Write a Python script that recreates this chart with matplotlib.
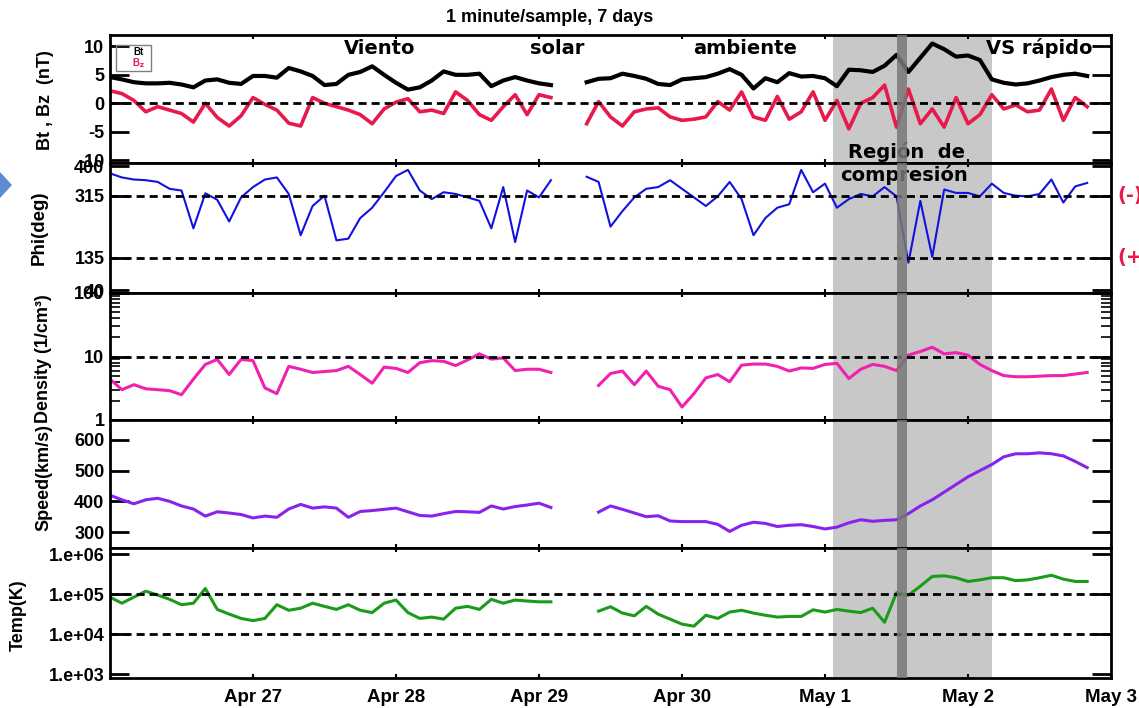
import numpy as np
import matplotlib.pyplot as plt
from matplotlib.patches import Polygon, Rectangle

nan = np.nan

# Hours since Apr 26 00:00, one value every 2 hours
hours = np.arange(0, 166, 2)

bt = [4.6, 4.2, 3.7, 3.5, 3.5, 3.6, 3.3, 2.8, 4.0, 4.2, 3.6, 3.4,
      4.8, 4.8, 4.5, 6.2, 5.6, 4.8, 3.2, 3.4, 5.0, 5.5, 6.5, 5.0,
      3.6, 2.4, 2.8, 4.0, 5.6, 5.0, 5.0, 5.2, 3.0, 4.0, 4.6, 4.0,
      3.5, 3.2, nan, nan, 3.7, 4.3, 4.4, 5.2, 4.8, 4.3, 3.4, 3.2,
      4.2, 4.4, 4.6, 5.2, 6.0, 5.0, 2.6, 4.4, 3.7, 5.3, 4.7, 4.8,
      4.4, 3.0, 5.9, 5.8, 5.5, 6.6, 8.5, 5.5, 8.0, 10.5, 9.5, 8.2,
      8.4, 7.6, 4.2, 3.6, 3.3, 3.5, 4.0, 4.6, 5.0, 5.2, 4.8]

bz = [2.2, 1.7, 0.5, -1.5, -0.6, -1.2, -1.8, -3.3, 0.0, -2.5, -4.0, -2.2,
      1.0, -0.2, -1.2, -3.5, -4.0, 1.0, 0.0, -0.6, -1.2, -2.0, -3.6, -1.0,
      0.2, 0.8, -1.5, -1.2, -1.8, 2.0, 0.5, -2.0, -3.0, -0.6, 1.5, -2.0,
      1.5, 1.0, nan, nan, -3.6, 0.3, -2.4, -4.0, -1.5, -1.0, -0.8, -2.4,
      -3.0, -2.8, -2.4, 0.3, -1.2, 2.0, -2.4, -3.0, 1.2, -2.8, -1.5, 2.0,
      -3.0, 0.5, -4.5, 0.0, 1.0, 3.2, -4.2, 2.5, -3.6, -1.0, -4.2, 1.0,
      -3.6, -2.0, 1.5, -1.0, -0.3, -1.5, -1.2, 2.5, -3.0, 1.0, -0.6]

phi = [380, 368, 362, 360, 355, 335, 330, 220, 322, 303, 240, 310,
       340, 362, 368, 320, 200, 285, 315, 185, 190, 250, 280, 325,
       372, 390, 330, 305, 325, 320, 310, 300, 220, 340, 180, 330,
       310, 360, nan, nan, 370, 355, 225, 270, 310, 335, 340, 360,
       335, 310, 285, 313, 355, 305, 200, 250, 280, 290, 390, 325,
       350, 280, 305, 320, 313, 340, 313, 120, 300, 137, 333, 323,
       323, 313, 350, 323, 315, 313, 320, 362, 295, 342, 352]

density = [4.4, 3.0, 3.6, 3.1, 3.0, 2.9, 2.5, 4.4, 7.5, 9.0, 5.2, 9.0,
           8.6, 3.2, 2.6, 7.0, 6.3, 5.6, 5.8, 6.0, 7.0, 5.2, 3.8, 6.8,
           6.5, 5.6, 8.0, 8.6, 8.4, 7.2, 8.8, 11, 9.1, 9.5, 6.0, 6.3,
           6.3, 5.6, nan, nan, nan, 3.5, 5.4, 5.9, 3.6, 5.9, 3.4, 3.0,
           1.6, 2.6, 4.6, 5.2, 4.0, 7.3, 7.6, 7.6, 7.0, 5.9, 6.6, 6.5,
           7.5, 7.8, 4.5, 6.3, 7.5, 7.0, 6.0, 10.5, 12, 14, 11, 11.5,
           10.5, 7.5, 6.0, 5.0, 4.8, 4.8, 4.9, 5.0, 5.0, 5.3, 5.6]

speed = [420, 405, 392, 405, 410, 400, 385, 375, 352, 366, 362, 357,
         346, 352, 348, 375, 390, 378, 382, 378, 348, 367, 370, 374,
         378, 366, 354, 352, 360, 367, 366, 364, 385, 375, 383, 388,
         394, 380, nan, nan, nan, 365, 385, 374, 362, 350, 353, 336,
         334, 334, 334, 325, 302, 322, 332, 328, 318, 322, 324, 318,
         310, 316, 330, 340, 335, 338, 340, 360, 385, 405, 430, 455,
         480, 500, 520, 545, 555, 555, 558, 555, 548, 530, 510]

temp = [8.5e4, 6.0e4, 8.5e4, 1.2e5, 9.6e4, 7.5e4, 5.5e4, 6.0e4, 1.4e5, 4.2e4, 3.2e4, 2.5e4,
        2.2e4, 2.5e4, 5.5e4, 4.0e4, 4.5e4, 6.0e4, 5.0e4, 4.2e4, 5.5e4, 4.0e4, 3.5e4, 6.0e4,
        7.2e4, 3.5e4, 2.5e4, 2.7e4, 2.4e4, 4.5e4, 5.0e4, 4.2e4, 7.5e4, 6.0e4, 7.2e4, 6.8e4,
        6.5e4, 6.5e4, nan, nan, nan, 3.8e4, 4.9e4, 3.4e4, 2.9e4, 5.0e4, 3.2e4, 2.4e4,
        1.8e4, 1.6e4, 3.0e4, 2.5e4, 3.6e4, 4.0e4, 3.4e4, 3.0e4, 2.7e4, 2.8e4, 2.8e4, 4.1e4,
        3.6e4, 4.2e4, 3.8e4, 3.5e4, 4.5e4, 2.0e4, 1.1e5, 9.5e4, 1.6e5, 2.8e5, 2.9e5, 2.6e5,
        2.1e5, 2.3e5, 2.6e5, 2.6e5, 2.2e5, 2.3e5, 2.6e5, 3.0e5, 2.4e5, 2.1e5, 2.1e5]

day_ticks = [24, 48, 72, 96, 120, 144, 168]
day_labels = ["Apr 27", "Apr 28", "Apr 29", "Apr 30", "May 1", "May 2", "May 3"]

# compression region and the interface (hours)
region = (121.3, 148.0)
interface = (132.1, 133.8)

plt.rcParams['font.family'] = ['Liberation Sans', 'DejaVu Sans']
plt.rcParams['font.weight'] = 'bold'
plt.rcParams['axes.labelweight'] = 'bold'
plt.rcParams['axes.unicode_minus'] = False

W, H = 1139, 708
fig = plt.figure(figsize=(W / 100, H / 100), dpi=100)
edges = [35, 163, 293, 420, 548, 678]
axes = []
for i in range(5):
    rect = [110 / W, 1 - edges[i + 1] / H, 1001 / W, (edges[i + 1] - edges[i]) / H]
    ax = fig.add_axes(rect, sharex=axes[0] if axes else None)
    axes.append(ax)

dash = (0, (2.9, 1.8))
for i, ax in enumerate(axes):
    ax.axvspan(*region, color='#c8c8c8', lw=0, zorder=0)
    ax.axvspan(*interface, color='#787878', alpha=0.85, lw=0, zorder=6)
    for s in ax.spines.values():
        s.set_linewidth(2)
    ax.tick_params(axis='y', which='major', direction='in', length=14, width=2,
                   labelsize=13, right=True, pad=4)
    ax.tick_params(axis='y', which='minor', direction='in', length=7, width=1.2, right=True)
    ax.tick_params(axis='x', which='major', direction='in', length=3, width=1.5,
                   top=True, labelbottom=(i == 4), labelsize=13.5, pad=8)

ax1, ax2, ax3, ax4, ax5 = axes

# Bt / Bz
ax1.plot(hours, bz, color='#e8194b', lw=2.6, zorder=2)
ax1.plot(hours, bt, color='black', lw=3, zorder=3)
ax1.axhline(0, color='black', ls=dash, lw=2, zorder=4)
ax1.set_ylim(-10.5, 12)
ax1.set_yticks([-10, -5, 0, 5, 10])
ax1.set_ylabel("Bt , Bz  (nT)", fontsize=13)
ax1.yaxis.set_label_coords(-0.056, 0.49)
ax1.add_patch(Rectangle((0.006, 0.72), 0.035, 0.2, transform=ax1.transAxes,
                        fill=False, edgecolor='#808080', lw=1, zorder=5))
ax1.text(0.028, 0.865, "Bt", transform=ax1.transAxes, fontsize=7, color='black',
         ha='center', va='center')
ax1.text(0.028, 0.78, "B$_\\mathbf{z}$", transform=ax1.transAxes, fontsize=7,
         color='#e8194b', ha='center', va='center')

# Phi
ax2.plot(hours, phi, color='#1212e0', lw=1.5, zorder=2)
ax2.axhline(315, color='black', ls=dash, lw=2, zorder=4)
ax2.axhline(135, color='black', ls=dash, lw=2, zorder=4)
ax2.set_ylim(32, 410)
ax2.set_yticks([40, 135, 315, 400])
ax2.set_ylabel("Phi(deg)", fontsize=13.5)
ax2.yaxis.set_label_coords(-0.062, 0.5)
ax2.text(1.006, 315, "(-)", transform=ax2.get_yaxis_transform(), color='#e8194b',
         fontsize=14, family='DejaVu Sans', va='center', ha='left', clip_on=False)
ax2.text(1.006, 135, "(+)", transform=ax2.get_yaxis_transform(), color='#e8194b',
         fontsize=14, family='DejaVu Sans', va='center', ha='left', clip_on=False)

# Density
ax3.plot(hours, density, color='#f020b0', lw=2.2, zorder=2)
ax3.axhline(10, color='black', ls=dash, lw=2, zorder=4)
ax3.set_yscale('log')
ax3.set_ylim(1, 100)
ax3.set_yticks([1, 10, 100], ["1", "10", "100"])
ax3.set_ylabel("Density (1/cm³)", fontsize=13)
ax3.yaxis.set_label_coords(-0.058, 0.48)

# Speed
ax4.plot(hours, speed, color='#8a22ee', lw=2.2, zorder=2)
ax4.set_ylim(248, 665)
ax4.set_yticks([300, 400, 500, 600])
ax4.set_ylabel("Speed(km/s)", fontsize=13)
ax4.yaxis.set_label_coords(-0.057, 0.55)

# Temperature
ax5.plot(hours, temp, color='#1a9c1a', lw=2.2, zorder=2)
ax5.axhline(1e5, color='black', ls=dash, lw=2, zorder=4)
ax5.axhline(1e4, color='black', ls=dash, lw=2, zorder=4)
ax5.set_yscale('log')
ax5.set_ylim(8.1e2, 1.44e6)
ax5.set_yticks([1e3, 1e4, 1e5, 1e6], ["1.e+03", "1.e+04", "1.e+05", "1.e+06"])
ax5.set_ylabel("Temp(K)", fontsize=13)
ax5.yaxis.set_label_coords(-0.083, 0.48)

ax5.set_xlim(0, 168)
ax5.set_xticks(day_ticks, day_labels)

# annotations
for x, s in [(45.3, "Viento"), (75.0, "solar"), (106.6, "ambiente"), (155.9, "VS rápido")]:
    ax1.text(x, 0.898, s, transform=ax1.get_xaxis_transform(), family='DejaVu Sans',
             fontsize=14, ha='center', va='center', zorder=5)
ax1.text(133.6, 0.086, "Región  de", transform=ax1.get_xaxis_transform(),
         family='DejaVu Sans', fontsize=14, ha='center', va='center', zorder=5)
ax2.text(133.3, 0.908, "compresión", transform=ax2.get_xaxis_transform(),
         family='DejaVu Sans', fontsize=14, ha='center', va='center', zorder=5)

fig.text(550 / W, 1 - 18 / H, "1 minute/sample, 7 days", ha='center', va='center',
         fontsize=13)

# slide arrow on the left edge
fig.patches.append(Polygon([(0, 1 - 172 / H), (12 / W, 1 - 185 / H), (0, 1 - 198 / H)],
                           closed=True, transform=fig.transFigure,
                           facecolor='#5b8bd0', edgecolor='none'))

plt.savefig('out.png', dpi=100)
